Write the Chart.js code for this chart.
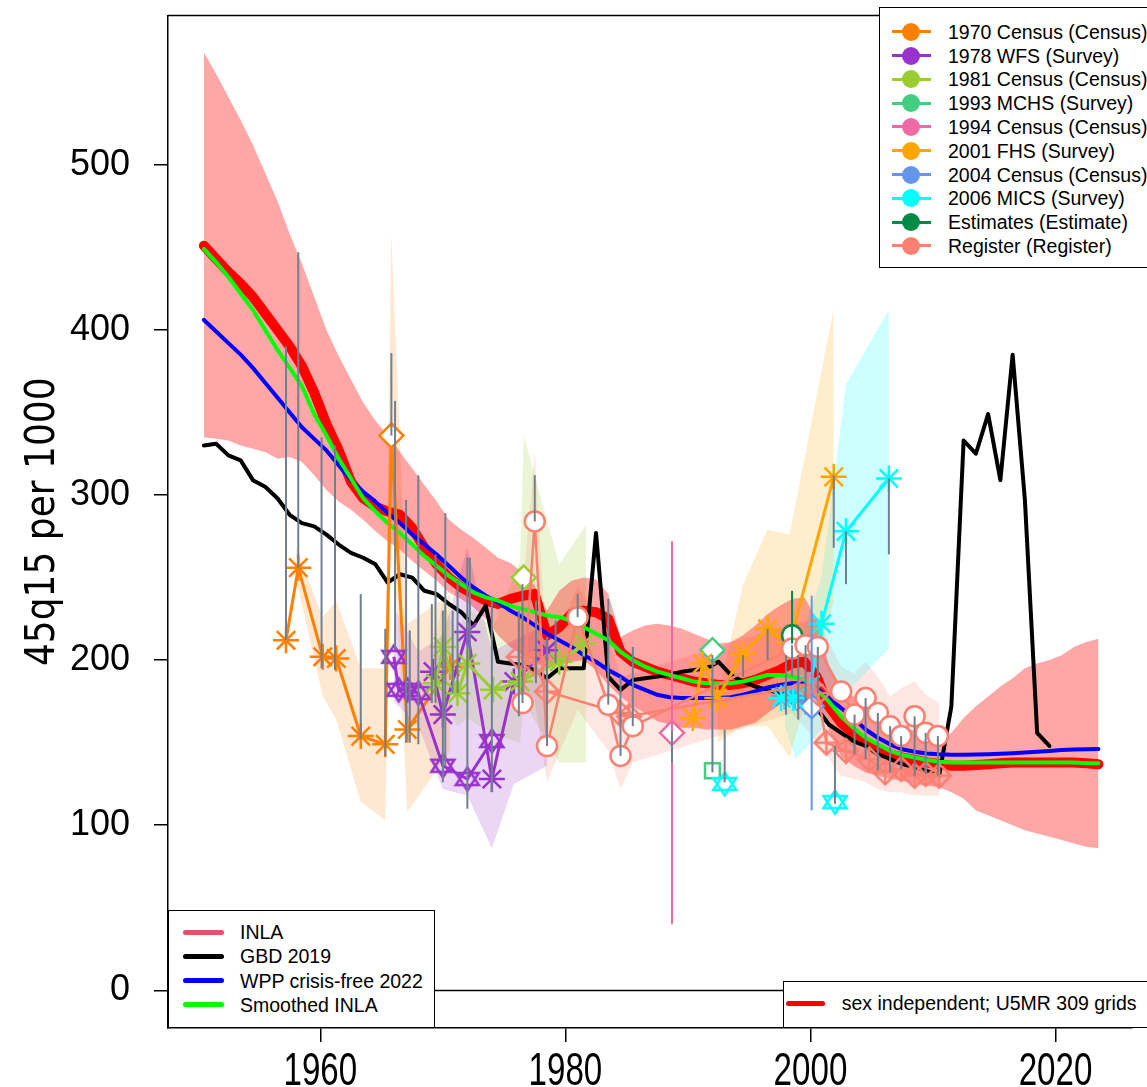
<!DOCTYPE html>
<html>
<head>
<meta charset="utf-8">
<title>45q15 per 1000</title>
<script src="https://cdn.jsdelivr.net/npm/chart.js@4.4.1/dist/chart.umd.min.js"></script>
<style>
html, body { margin:0; padding:0; background:#ffffff; overflow:hidden; }
#wrap { position:relative; width:1147px; height:1087px; overflow:hidden; background:#ffffff; }
#chart { position:absolute; left:0; top:0; }
.legend { position:absolute; background:#ffffff; border:1.5px solid #000; box-sizing:border-box; }
.lg-line { position:absolute; }
.lg-dot { position:absolute; border-radius:50%; }
.lg-text { position:absolute; white-space:nowrap; font-family:'Liberation Sans', Arial, Helvetica, sans-serif; font-size:19.5px; line-height:24px; color:#000; }
</style>
</head>
<body>
<div id="wrap">
  <canvas id="chart" width="1147" height="1087"></canvas>
</div>
<script>
// ---------------- axis ticks ----------------
const xTicks = [1960, 1980, 2000, 2020];
const yTicks = [0, 100, 200, 300, 400, 500];
const zeroLine = [0];

// ---------------- annual model series ----------------
const annualYears = [1950.5,1951.5,1952.5,1953.5,1954.5,1955.5,1956.5,1957.5,1958.5,1959.5,
  1960.5,1961.5,1962.5,1963.5,1964.5,1965.5,1966.5,1967.5,1968.5,1969.5,
  1970.5,1971.5,1972.5,1973.5,1974.5,1975.5,1976.5,1977.5,1978.5,1979.5,
  1980.5,1981.5,1982.5,1983.5,1984.5,1985.5,1986.5,1987.5,1988.5,1989.5,
  1990.5,1991.5,1992.5,1993.5,1994.5,1995.5,1996.5,1997.5,1998.5,1999.5,
  2000.5,2001.5,2002.5,2003.5,2004.5,2005.5,2006.5,2007.5,2008.5,2009.5,
  2010.5,2011.5,2012.5,2013.5,2014.5,2015.5,2016.5,2017.5,2018.5,2019.5,
  2020.5,2021.5,2022.5,2023.5];

const inlaMedian = [451,443,435,428,420,410,400,390,378,362,
  343,327,308,298,293,290,288,280,268,258,
  250,244,240,236,234,237,239,240,215,220,
  228,230,229,225,205,199,196,193,191,189,
  187,186,185,185,186,188,191,194,198,199,
  190,172,162,156,150,146,143,141,139.5,138,
  137,136,136,136.5,137,137.5,138,138,138,138,
  138,138,137.5,137];

const inlaUpper = [568,555,541,527,512,495,478,458,440,420,
  400,384,370,356,345,336,326,316,306,296,
  285,279,274,268,262,259,253,245,230,242,
  248,250,249,240,214,218,221,222,221,219,
  216,213,210,211,215,221,228,233,237,238,
  225,197,184,178,172,167,163,160,157,153,
  150,156,165,172,178,184,189,195,198,200,
  203,208,211,213];

const inlaLower = [335,334,333,330,328,326,322,323,320,312,
  303,296,291,285,278,272,267,260,254,248,
  241,237,232,225,215,208,203,199,196,197,
  199,200,194,185,178,172,168,163,161,159,
  159,158,158,158,160,162,168,173,176,177,
  177,158,142,136,132,130,128,127,125,124,
  123,120,116,109,106,103,100,97,95,93,
  91,89,87,86];

const smoothedInla = [449,441,432,422,412,400,388,377,366,349,
  336,322,310,298,290,283,277,270,263,257,
  251,246,241,238,236,233,231,229,227,226,
  224,220,216,212,205,200,196,193,191,189,
  187,186,186,186,187,189,191,191,190,188,
  182,175,166,159,153,149,145,142.5,141,139.5,
  138.5,138,138,138,138,138,138,138,138,138,
  138,138,137.5,137.5];

const wppCrisisFree = [406,399,392,385,377,368,359,350,341,334,
  327,318,309,302,296,289,283,276,270,264,
  257,250,244,239,235,230,226,221,216,212,
  208,203,199,194,190,185,182,179,177.5,177,
  177,177,177,177.5,179,181,183.5,185,186,186,
  183,177,171,165,158,153,149,146,144.5,143.5,
  143,142.7,142.7,142.8,143,143.3,143.6,144,144.5,145,
  145.5,145.8,146,146.2];

const gbd2019 = [330,331,324,321,309,305,298,288,283,281,
  276,270,265,262,258,247,252,250,242,240,
  234,229,221,233,199,198,197,194,189,195,
  195,195,277,190,182,188,189,190,191,193,
  194,195,199,191,187,184,182,180,178.5,176,
  171,161,156,151,148,143,140,137,135,133,
  130,172,333,325,349,309,385,297,156,148];

// ---------------- data sources ----------------
// 1970 Census
const census1970Years  = [1957.2, 1958.2, 1960.2, 1961.3, 1963.3, 1965.3, 1965.8, 1967.1, 1970.6];
const census1970Values = [212, 256, 202, 201, 154, 149, 336, 158, 196];
const census1970Marks  = ['asterisk','asterisk','asterisk','asterisk','asterisk','asterisk','diamond','asterisk','asterisk'];
const census1970BandYears = [1958.0, 1960.2, 1961.3, 1963.3, 1965.3, 1965.8, 1967.1, 1970.6];
const census1970BandUpper = [268, 226, 236, 195, 195, 458, 222, 240];
const census1970BandLower = [250, 178, 164, 114, 103, 300, 108, 145];

// 1978 WFS
const wfsStarYears  = [1966.0, 1966.4, 1967.1, 1968.0, 1970.0, 1972.0, 1974.0];
const wfsStarValues = [202, 182, 182, 180, 136, 128, 151];
const wfsAstYears   = [1969.2, 1970.0, 1972.0, 1974.0, 1975.8, 1978.5];
const wfsAstValues  = [193, 167, 217, 128, 187, 206];
const wfsBandYears  = [1966.0, 1968.0, 1970.0, 1972.0, 1974.0, 1975.8, 1978.5];
const wfsBandUpper  = [232, 205, 215, 268, 205, 212, 222];
const wfsBandLower  = [175, 160, 122, 118, 86, 125, 136];

// 1981 Census
const census1981Years  = [1969.4, 1970.0, 1971.2, 1972.0, 1974.1, 1976.3, 1979.5, 1981.5];
const census1981Values = [186, 208, 180, 198, 182, 187, 199, 210];
const census1981DiamondYears  = [1976.6];
const census1981DiamondValues = [250];
const census1981BandYears = [1969.4, 1970.0, 1971.2, 1972.0, 1974.1, 1976.3, 1976.6, 1979.5, 1981.7];
const census1981BandUpper = [215, 235, 215, 232, 220, 260, 336, 258, 282];
const census1981BandLower = [160, 175, 160, 165, 155, 150, 175, 138, 138];

// 1993 MCHS
const mchsYears  = [1992.0, 1992.0];
const mchsValues = [206, 133];
const mchsMarks  = ['diamond', 'square'];

// 1994 Census
const census1994Years  = [1988.7];
const census1994Values = [156];

// 2001 FHS
const fhsYears  = [1990.4, 1991.2, 1992.4, 1994.5, 1996.5, 1998.3, 2001.9];
const fhsValues = [165, 198, 177, 204, 219, 210, 311];
const fhsBandYears = [1992.4, 1994.5, 1996.5, 1998.3, 2001.9];
const fhsBandUpper = [176, 246, 279, 276, 413];
const fhsBandLower = [150, 160, 160, 141, 235];

// 2004 Census
const census2004Years  = [1997.9, 1998.7, 1999.6, 2000.1];
const census2004Values = [178, 178, 175, 172];
const census2004Marks  = ['asterisk','asterisk','asterisk','diamond'];

// 2006 MICS
const micsYears  = [1997.6, 1998.6, 2000.0, 2000.9, 2002.9, 2006.4];
const micsValues = [177, 177, 185, 222, 278, 310];
const micsStarYears  = [1993.0, 2002.0];
const micsStarValues = [125, 114];
const micsBandYears = [1997.9, 1998.8, 2000.9, 2002.9, 2006.4];
const micsBandUpper = [200, 205, 250, 367, 412];
const micsBandLower = [160, 140, 158, 180, 207];

// Estimates
const estimateYears  = [1998.5];
const estimateValues = [215];

// Register
const registerCircleYears  = [1976.5, 1977.5, 1978.5, 1981.0, 1983.5, 1984.5, 1985.5, 1998.5, 1999.6, 2000.6, 2002.5, 2003.6, 2004.5, 2005.5, 2006.5, 2007.4, 2008.5, 2009.4, 2010.4];
const registerCircleValues = [174, 284, 148, 226, 173, 142, 160, 207, 209, 208, 181, 167, 177, 168, 160, 154, 166, 156, 154];
const registerDiamondYears  = [1976.2, 1977.5, 1978.5, 1984.4, 1985.2, 1999.8, 2000.6, 2001.3, 2002.9, 2004.8, 2006.1, 2007.4, 2008.5, 2009.4, 2010.5];
const registerDiamondValues = [202, 198, 181, 168, 166, 185, 180, 150, 145, 140, 132, 134, 130, 131, 130];
const registerBandYears = [1976.2, 1977.5, 1978.5, 1981.0, 1983.5, 1984.5, 1985.5, 1998.5, 2000.6, 2002.5, 2003.6, 2004.5, 2005.5, 2006.5, 2007.4, 2008.5, 2009.4, 2010.5];
const registerBandUpper = [215, 326, 200, 245, 215, 190, 192, 222, 225, 196, 192, 199, 190, 178, 183, 187, 179, 174];
const registerBandLower = [165, 175, 126, 170, 145, 122, 138, 168, 150, 130, 128, 126, 122, 120, 120, 118, 118, 118];

// Vertical uncertainty / adjustment segments
const barYears = [1957.2,1958.2,1960.1,1961.2,1963.3,1965.3,1965.8,1966.1,1967.0,1967.3,
  1968.0,1969.1,1969.4,1970.0,1970.2,1970.8,1971.2,1972.0,1972.2,1974.0,
  1976.2,1976.5,1977.5,1977.6,1978.5,1979.2,1981.0,1983.5,1984.5,1985.5,
  1988.7,1992.0,1993.0,1994.5,1996.5,1998.0,1998.5,1999.0,1999.6,2000.6,
  2001.9,2002.0,2002.9,2003.6,2004.5,2005.5,2006.4,2006.5,2007.4,2008.5,
  2009.4,2010.4,
  1988.7,1998.5,2000.1];
const barLows = [212,256,195,194,152,142,336,206,150,150,
  149,174,174,126,136,180,180,110,200,120,
  166,174,284,186,148,198,226,173,142,160,
  138,132,126,190,200,167,190,164,175,180,
  268,113,246,143,140,133,264,132,134,130,
  131,130,
  40,210,109];
const barHighs = [390,447,335,330,240,219,386,357,297,218,
  312,234,264,230,289,230,248,262,262,236,
  230,246,312,236,214,224,240,237,190,208,
  157,203,158,203,219,203,209,203,209,208,
  312,148,278,167,177,168,310,160,154,166,
  156,154,
  272,242,239];
const barSources = ['other','other','other','other','other','other','other','other','other','other',
  'other','other','other','other','other','other','other','other','other','other',
  'other','other','other','other','other','other','other','other','other','other',
  'other','other','other','other','other','other','other','other','other','other',
  'other','other','other','other','other','other','other','other','other','other',
  'other','other',
  '1994 Census','Estimates','2004 Census'];

// legend labels
const sourceLegendLabels = ['1970 Census (Census)','1978 WFS (Survey)','1981 Census (Census)','1993 MCHS (Survey)','1994 Census (Census)','2001 FHS (Survey)','2004 Census (Census)','2006 MICS (Survey)','Estimates (Estimate)','Register (Register)'];
const modelLegendLabels = ['INLA','GBD 2019','WPP crisis-free 2022','Smoothed INLA'];
const runLegendLabels = ['sex independent; U5MR 309 grids'];

// ---------------- styles ----------------
const COL = {
  c1970:'#FF7F00', wfs:'#9932CC', c1981:'#9ACD32', mchs:'#43CD80', c1994:'#EE6AA7',
  fhs:'#FFA500', c2004:'#6495ED', mics:'#00FFFF', est:'#008B45', reg:'#FA8072'
};
const sourceLegendColors = [COL.c1970, COL.wfs, COL.c1981, COL.mchs, COL.c1994, COL.fhs, COL.c2004, COL.mics, COL.est, COL.reg];
const modelLegendColors = ['#DF536B', '#000000', '#0000FF', '#00FF00'];
const barColorFor = {'1994 Census': COL.c1994, 'Estimates': COL.est, '2004 Census': COL.c2004, 'other': '#708090'};

function rgba(hex, a) {
  const n = parseInt(hex.slice(1), 16);
  return 'rgba(' + ((n >> 16) & 255) + ',' + ((n >> 8) & 255) + ',' + (n & 255) + ',' + a + ')';
}

const canvasCache = {};
function starOfDavid(color) {
  const key = 'sod' + color;
  if (canvasCache[key]) return canvasCache[key];
  const s = 30, c = document.createElement('canvas'); c.width = s; c.height = s;
  const g = c.getContext('2d'); const cx = s / 2, cy = s / 2, h = 11.5, w = 11.5, b = 6;
  g.strokeStyle = color; g.lineWidth = 2.5; g.lineJoin = 'miter';
  g.beginPath(); g.moveTo(cx, cy - h); g.lineTo(cx + w, cy + b); g.lineTo(cx - w, cy + b); g.closePath(); g.stroke();
  g.beginPath(); g.moveTo(cx, cy + h); g.lineTo(cx + w, cy - b); g.lineTo(cx - w, cy - b); g.closePath(); g.stroke();
  canvasCache[key] = c; return c;
}
function diamondPlus(color) {
  const key = 'dp' + color;
  if (canvasCache[key]) return canvasCache[key];
  const s = 30, c = document.createElement('canvas'); c.width = s; c.height = s;
  const g = c.getContext('2d'); const cx = s / 2, cy = s / 2, r = 12;
  g.strokeStyle = color; g.lineWidth = 2.5;
  g.beginPath(); g.moveTo(cx, cy - r); g.lineTo(cx + r, cy); g.lineTo(cx, cy + r); g.lineTo(cx - r, cy); g.closePath(); g.stroke();
  g.beginPath(); g.moveTo(cx, cy - r); g.lineTo(cx, cy + r); g.moveTo(cx - r, cy); g.lineTo(cx + r, cy); g.stroke();
  canvasCache[key] = c; return c;
}
function pointSpec(kind, color) {
  switch (kind) {
    case 'asterisk': return {style: 'star', r: 13, bg: color};
    case 'circle': return {style: 'circle', r: 10, bg: '#ffffff'};
    case 'diamond': return {style: 'rectRot', r: 12, bg: '#ffffff'};
    case 'square': return {style: 'rect', r: 10.5, bg: '#ffffff'};
    case 'davidstar': return {style: starOfDavid(color), r: 10, bg: color};
    case 'diamondplus': return {style: diamondPlus(color), r: 10, bg: color};
  }
  return {style: 'circle', r: 8, bg: color};
}
function pts(xs, ys) { return xs.map((x, i) => ({x: x, y: ys[i]})); }
function sourceSet(xs, ys, kinds, color, order, lw) {
  const specs = kinds.map(k => pointSpec(k, color));
  return {
    data: pts(xs, ys), showLine: lw > 0, borderColor: color, borderWidth: lw > 0 ? lw : 1, tension: 0,
    pointStyle: specs.map(s => s.style), pointRadius: specs.map(s => s.r),
    pointBorderColor: color, pointBackgroundColor: specs.map(s => s.bg), pointBorderWidth: 2.5,
    fill: false, order: order
  };
}
function same(n, v) { const a = []; for (let i = 0; i < n; i++) a.push(v); return a; }
function bandSets(xs, up, lo, fillColor, order) {
  return [
    {data: pts(xs, up), showLine: true, borderColor: 'rgba(0,0,0,0)', borderWidth: 0, pointRadius: 0, fill: '+1', backgroundColor: fillColor, tension: 0, order: order},
    {data: pts(xs, lo), showLine: true, borderColor: 'rgba(0,0,0,0)', borderWidth: 0, pointRadius: 0, fill: false, tension: 0, order: order}
  ];
}
function lineSet(xs, ys, color, lw, order) {
  return {data: pts(xs, ys), showLine: true, borderColor: color, borderWidth: lw, pointRadius: 0,
    fill: false, tension: 0, order: order, borderCapStyle: 'round', borderJoinStyle: 'round'};
}

const datasets = [];
datasets.push(...bandSets(census1970BandYears, census1970BandUpper, census1970BandLower, rgba(COL.c1970, 0.18), 200));
datasets.push(...bandSets(wfsBandYears, wfsBandUpper, wfsBandLower, rgba(COL.wfs, 0.2), 200));
datasets.push(...bandSets(census1981BandYears, census1981BandUpper, census1981BandLower, rgba(COL.c1981, 0.2), 200));
datasets.push(...bandSets(fhsBandYears, fhsBandUpper, fhsBandLower, rgba(COL.fhs, 0.2), 200));
datasets.push(...bandSets(micsBandYears, micsBandUpper, micsBandLower, rgba(COL.mics, 0.2), 200));
datasets.push(...bandSets(registerBandYears, registerBandUpper, registerBandLower, rgba(COL.reg, 0.2), 200));
datasets.push(...bandSets(annualYears, inlaUpper, inlaLower, 'rgba(255,0,0,0.35)', 150));
datasets.push(lineSet(annualYears, inlaMedian, '#FF0000', 10, 100));
datasets.push(lineSet(annualYears.slice(0, gbd2019.length), gbd2019, '#000000', 4, 95));
datasets.push(lineSet(annualYears, wppCrisisFree, '#0000FF', 4, 90));
datasets.push(lineSet(annualYears, smoothedInla, '#00FF00', 4, 85));
datasets.push(sourceSet(census1970Years, census1970Values, census1970Marks, COL.c1970, 50, 3));
datasets.push(sourceSet(wfsStarYears, wfsStarValues, same(wfsStarYears.length, 'davidstar'), COL.wfs, 49, 3));
datasets.push(sourceSet(wfsAstYears, wfsAstValues, same(wfsAstYears.length, 'asterisk'), COL.wfs, 48, 3));
datasets.push(sourceSet(census1981Years, census1981Values, same(census1981Years.length, 'asterisk'), COL.c1981, 47, 3));
datasets.push(sourceSet(census1981DiamondYears, census1981DiamondValues, ['diamond'], COL.c1981, 46, 3));
datasets.push(sourceSet(census1994Years, census1994Values, ['diamond'], COL.c1994, 45, 3));
datasets.push(sourceSet(mchsYears, mchsValues, mchsMarks, COL.mchs, 44, 0));
datasets.push(sourceSet(fhsYears, fhsValues, same(fhsYears.length, 'asterisk'), COL.fhs, 43, 3));
datasets.push(sourceSet(census2004Years, census2004Values, census2004Marks, COL.c2004, 42, 3));
datasets.push(sourceSet(micsYears, micsValues, same(micsYears.length, 'asterisk'), COL.mics, 41, 3));
datasets.push(sourceSet(micsStarYears, micsStarValues, same(micsStarYears.length, 'davidstar'), COL.mics, 40, 0));
datasets.push(sourceSet(estimateYears, estimateValues, ['circle'], COL.est, 39, 3));
datasets.push(sourceSet(registerDiamondYears, registerDiamondValues, same(registerDiamondYears.length, 'diamondplus'), COL.reg, 38, 2.5));
datasets.push(sourceSet(registerCircleYears, registerCircleValues, same(registerCircleYears.length, 'circle'), COL.reg, 37, 2.5));

// ---------------- plugins ----------------
const framePlugin = {
  id: 'frame',
  beforeDatasetsDraw(chart) {
    const ctx = chart.ctx, a = chart.chartArea, y = chart.scales.y;
    ctx.save();
    ctx.strokeStyle = '#000'; ctx.lineWidth = 1.5;
    zeroLine.forEach(v => {
      const py = Math.round(y.getPixelForValue(v)) + 0.5;
      ctx.beginPath(); ctx.moveTo(a.left, py); ctx.lineTo(a.right, py); ctx.stroke();
    });
    ctx.restore();
  },
  afterDraw(chart) {
    const ctx = chart.ctx, a = chart.chartArea, x = chart.scales.x;
    ctx.save();
    ctx.strokeStyle = '#000'; ctx.lineWidth = 1.5;
    ctx.beginPath(); ctx.moveTo(a.left, a.top); ctx.lineTo(a.right + 5, a.top); ctx.stroke();
    // condensed x tick labels, positioned by the x scale
    ctx.fillStyle = '#000';
    ctx.font = "46px 'Liberation Sans Narrow', 'Arial Narrow', 'Liberation Sans', sans-serif";
    ctx.textAlign = 'center'; ctx.textBaseline = 'alphabetic';
    x.ticks.forEach(t => {
      const px = x.getPixelForValue(t.value);
      ctx.save(); ctx.translate(px, a.bottom + 57); ctx.scale(0.72, 1);
      ctx.fillText(String(t.value), 0, 0);
      ctx.restore();
    });
    ctx.restore();
  }
};
const barPlugin = {
  id: 'bars',
  afterDatasetsDraw(chart) {
    const ctx = chart.ctx, x = chart.scales.x, y = chart.scales.y;
    ctx.save();
    ctx.lineWidth = 2;
    const orderIdx = barYears.map((_, i) => i).sort((i, j) => (barSources[i] === 'other') - (barSources[j] === 'other'));
    orderIdx.forEach(i => {
      const px = x.getPixelForValue(barYears[i]);
      ctx.strokeStyle = barColorFor[barSources[i]];
      ctx.beginPath();
      ctx.moveTo(px, y.getPixelForValue(barLows[i]));
      ctx.lineTo(px, y.getPixelForValue(barHighs[i]));
      ctx.stroke();
    });
    ctx.restore();
  }
};

Chart.defaults.font.family = "'Liberation Sans', Arial, Helvetica, sans-serif";

new Chart(document.getElementById('chart'), {
  type: 'scatter',
  data: {datasets: datasets},
  options: {
    responsive: false, animation: false, devicePixelRatio: 1,
    layout: {padding: {top: 7, right: 0, left: 0, bottom: 0}},
    plugins: {legend: {display: false}, tooltip: {enabled: false}},
    scales: {
      x: {
        type: 'linear', min: 1947.57, max: 2026.2,
        afterBuildTicks: ax => { ax.ticks = xTicks.map(v => ({value: v})); },
        afterFit: ax => { ax.height = 59; ax.paddingLeft = 0; ax.paddingRight = 0; },
        grid: {drawOnChartArea: false, drawTicks: true, tickLength: 14, color: '#000', lineWidth: 1.5},
        border: {display: true, color: '#000', width: 1.5},
        ticks: {display: false, autoSkip: false, maxRotation: 0, callback: v => String(v)}
      },
      y: {
        type: 'linear', min: -22.8, max: 590.4,
        afterBuildTicks: ax => { ax.ticks = yTicks.map(v => ({value: v})); },
        afterFit: ax => { ax.width = 168; ax.paddingTop = 0; ax.paddingBottom = 0; },
        grid: {drawOnChartArea: false, drawTicks: true, tickLength: 14, color: '#000', lineWidth: 1.5},
        border: {display: true, color: '#000', width: 1.5},
        ticks: {color: '#000', padding: 24, autoSkip: false,
          font: {family: "'Liberation Sans', Arial, sans-serif", size: 36},
          callback: v => String(v)},
        title: {display: true, text: '45q15 per 1000', color: '#000',
          font: {family: "'Liberation Sans Narrow', 'Arial Narrow', 'DejaVu Sans Condensed', sans-serif", size: 40},
          padding: {top: 20, bottom: 0}}
      }
    }
  },
  plugins: [framePlugin, barPlugin]
});

// ---------------- legends (HTML text) ----------------
const wrap = document.getElementById('wrap');
function el(cls, css, text) {
  const d = document.createElement('div'); d.className = cls;
  Object.assign(d.style, css); if (text) d.textContent = text; wrap.appendChild(d); return d;
}
el('legend', {left: '879px', top: '7px', width: '300px', height: '261px'});
sourceLegendLabels.forEach((t, i) => {
  const cy = 31.7 + 23.8 * i;
  el('lg-line', {left: '892px', top: (cy - 1.5) + 'px', width: '39px', height: '3px', background: sourceLegendColors[i]});
  el('lg-dot', {left: '902px', top: (cy - 9) + 'px', width: '18px', height: '18px', background: sourceLegendColors[i]});
  el('lg-text', {left: '948px', top: (cy - 12) + 'px'}, t);
});
el('legend', {left: '168px', top: '909.5px', width: '267px', height: '118.5px'});
modelLegendLabels.forEach((t, i) => {
  const cy = 932.3 + 24.1 * i;
  el('lg-line', {left: '183px', top: (cy - 2.5) + 'px', width: '41px', height: '5px', borderRadius: '3px', background: modelLegendColors[i]});
  el('lg-text', {left: '240px', top: (cy - 12) + 'px'}, t);
});
el('legend', {left: '783px', top: '980.5px', width: '400px', height: '47px'});
runLegendLabels.forEach((t) => {
  const cy = 1003.3;
  el('lg-line', {left: '786px', top: (cy - 2.5) + 'px', width: '39px', height: '5px', borderRadius: '3px', background: '#FF0000'});
  el('lg-text', {left: '841.7px', top: (cy - 12) + 'px'}, t);
});
</script>
</body>
</html>
